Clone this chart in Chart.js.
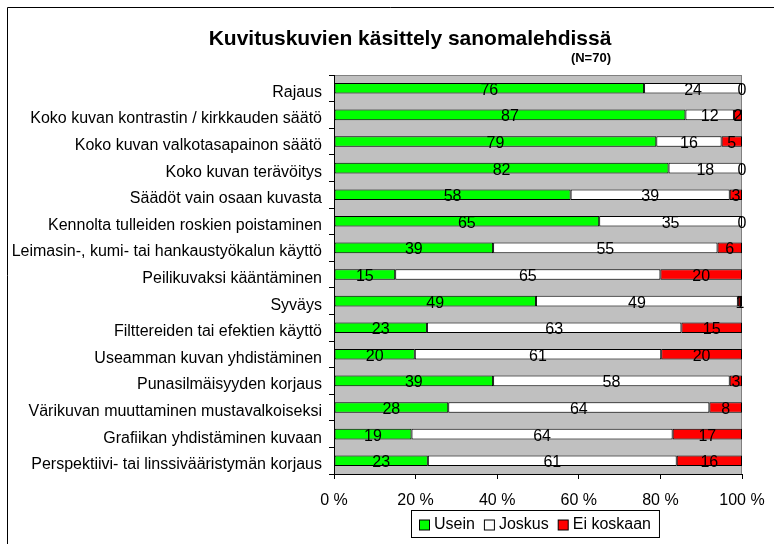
<!DOCTYPE html>
<html>
<head>
<meta charset="utf-8">
<script src="https://cdn.jsdelivr.net/npm/chart.js@4"></script>
<style>
  body { margin: 0; background: #fff; }
  #wrap { width: 774px; height: 544px; }
</style>
</head>
<body>
<div id="wrap"><canvas id="kuvat" width="774" height="544"></canvas></div>
<script>
// Kuvituskuvien käsittely sanomalehdissä (N=70)
const categories = [
    'Rajaus',
    'Koko kuvan kontrastin / kirkkauden säätö',
    'Koko kuvan valkotasapainon säätö',
    'Koko kuvan terävöitys',
    'Säädöt vain osaan kuvasta',
    'Kennolta tulleiden roskien poistaminen',
    'Leimasin-, kumi- tai hankaustyökalun käyttö',
    'Peilikuvaksi kääntäminen',
    'Syväys',
    'Filttereiden tai efektien käyttö',
    'Useamman kuvan yhdistäminen',
    'Punasilmäisyyden korjaus',
    'Värikuvan muuttaminen mustavalkoiseksi',
    'Grafiikan yhdistäminen kuvaan',
    'Perspektiivi- tai linssivääristymän korjaus'
];
const usein     = [76, 87, 79, 82, 58, 65, 39, 15, 49, 23, 20, 39, 28, 19, 23];
const joskus    = [24, 12, 16, 18, 39, 35, 55, 65, 49, 63, 61, 58, 64, 64, 61];
const eiKoskaan = [0, 2, 5, 0, 3, 0, 6, 20, 1, 15, 20, 3, 8, 17, 16];
const xTicks = ['0 %', '20 %', '40 %', '60 %', '80 %', '100 %'];

const FONT = '"Liberation Sans", Arial, sans-serif';

// 100 % stacked: each row scaled to its own total
const totals = usein.map((v, i) => v + joskus[i] + eiKoskaan[i]);
const share = (arr) => arr.map((v, i) => v / totals[i] * 100);

const series = [
    { label: 'Usein', raw: usein, color: '#00FF00' },
    { label: 'Joskus', raw: joskus, color: '#FFFFFF' },
    { label: 'Ei koskaan', raw: eiKoskaan, color: '#FF0000' }
];

// gray plot area, outer frame, title
const backdrop = {
    id: 'backdrop',
    beforeDraw: (chart) => {
        const { ctx, chartArea: a } = chart;
        ctx.save();
        ctx.fillStyle = '#C0C0C0';
        ctx.fillRect(a.left, a.top, a.right - a.left, a.bottom - a.top);
        ctx.strokeStyle = '#808080';
        ctx.lineWidth = 1;
        ctx.strokeRect(a.left + 0.5, a.top + 0.5, a.right - a.left - 1, a.bottom - a.top);
        // outer frame (only left/top visible)
        ctx.strokeStyle = '#000';
        ctx.beginPath();
        ctx.moveTo(7.5, chart.height);
        ctx.lineTo(7.5, 7.5);
        ctx.lineTo(chart.width, 7.5);
        ctx.stroke();
        // titles
        ctx.fillStyle = '#000';
        ctx.textBaseline = 'middle';
        ctx.textAlign = 'center';
        ctx.font = 'bold 21px ' + FONT;
        ctx.fillText('Kuvituskuvien käsittely sanomalehdissä', 410, 39);
        ctx.textAlign = 'right';
        ctx.font = 'bold 13px ' + FONT;
        ctx.fillText('(N=70)', 611, 58);
        ctx.restore();
    }
};

// value labels in the middle of each segment
const segLabels = {
    id: 'segLabels',
    afterDatasetsDraw: (chart) => {
        const { ctx } = chart;
        ctx.save();
        ctx.font = '16px ' + FONT;
        ctx.fillStyle = '#000';
        ctx.textAlign = 'center';
        ctx.textBaseline = 'middle';
        chart.data.datasets.forEach((ds, di) => {
            chart.getDatasetMeta(di).data.forEach((bar, i) => {
                const mid = (bar.x + bar.base) / 2;
                ctx.fillText(String(ds.raw[i]), mid, bar.y + 2);
            });
        });
        ctx.restore();
    }
};

// boxed legend under the axis
const boxLegend = {
    id: 'boxLegend',
    afterDraw: (chart) => {
        const { ctx } = chart;
        ctx.save();
        ctx.font = '16px ' + FONT;
        const sq = 10, gapIn = 5, gapOut = 9, padX = 8;
        let w = padX * 2;
        series.forEach((s, i) => {
            w += sq + gapIn + ctx.measureText(s.label).width + (i < series.length - 1 ? gapOut : 0);
        });
        const h = 27;
        const cx = 535;
        let x = Math.round(cx - w / 2);
        const top = 510;
        ctx.strokeStyle = '#000';
        ctx.lineWidth = 1;
        ctx.strokeRect(x + 0.5, top + 0.5, w, h);
        const cy = top + h / 2 + 1;
        x += padX;
        ctx.textBaseline = 'middle';
        ctx.textAlign = 'left';
        series.forEach((s) => {
            ctx.fillStyle = s.color;
            ctx.fillRect(x + 0.5, cy - sq / 2 + 0.5, sq, sq);
            ctx.strokeRect(x + 0.5, cy - sq / 2 + 0.5, sq, sq);
            x += sq + gapIn;
            ctx.fillStyle = '#000';
            ctx.fillText(s.label, x, cy);
            x += ctx.measureText(s.label).width + gapOut;
        });
        ctx.restore();
    }
};

const ctx = document.getElementById('kuvat');
const kuvaChart = new Chart(ctx, {
    type: 'bar',
    data: {
        labels: categories,
        datasets: series.map((s) => ({
            label: s.label,
            data: share(s.raw),
            raw: s.raw,
            backgroundColor: s.color,
            borderColor: '#000',
            borderWidth: 1,
            borderSkipped: false,
            barPercentage: 0.4,
            categoryPercentage: 1
        }))
    },
    options: {
        responsive: false,
        animation: false,
        indexAxis: 'y',
        layout: {
            padding: { top: 75, right: 32, bottom: 0, left: 0 }
        },
        plugins: {
            legend: { display: false },
            title: { display: false },
            tooltip: { enabled: false }
        },
        scales: {
            x: {
                stacked: true,
                min: 0,
                max: 100,
                afterFit: (scale) => {
                    scale.height = 70;
                    scale.paddingLeft = 0;
                    scale.paddingRight = 0;
                },
                afterBuildTicks: (scale) => {
                    scale.ticks = xTicks.map((t, i) => ({ value: i * 20 }));
                },
                ticks: {
                    color: '#000',
                    padding: 12,
                    maxRotation: 0,
                    font: { family: FONT, size: 16 },
                    callback: (v, i) => xTicks[i]
                },
                grid: {
                    drawOnChartArea: false,
                    tickLength: 5,
                    color: '#000'
                },
                border: { color: '#000' }
            },
            y: {
                stacked: true,
                afterFit: (scale) => {
                    scale.width = 334;
                    scale.paddingTop = 0;
                    scale.paddingBottom = 0;
                },
                ticks: {
                    color: '#000',
                    padding: 7,
                    labelOffset: 4,
                    font: { family: FONT, size: 16 }
                },
                grid: {
                    offset: true,
                    drawOnChartArea: false,
                    tickLength: 5,
                    color: '#000'
                },
                border: { color: '#000' }
            }
        }
    },
    plugins: [backdrop, segLabels, boxLegend]
});
</script>
</body>
</html>
